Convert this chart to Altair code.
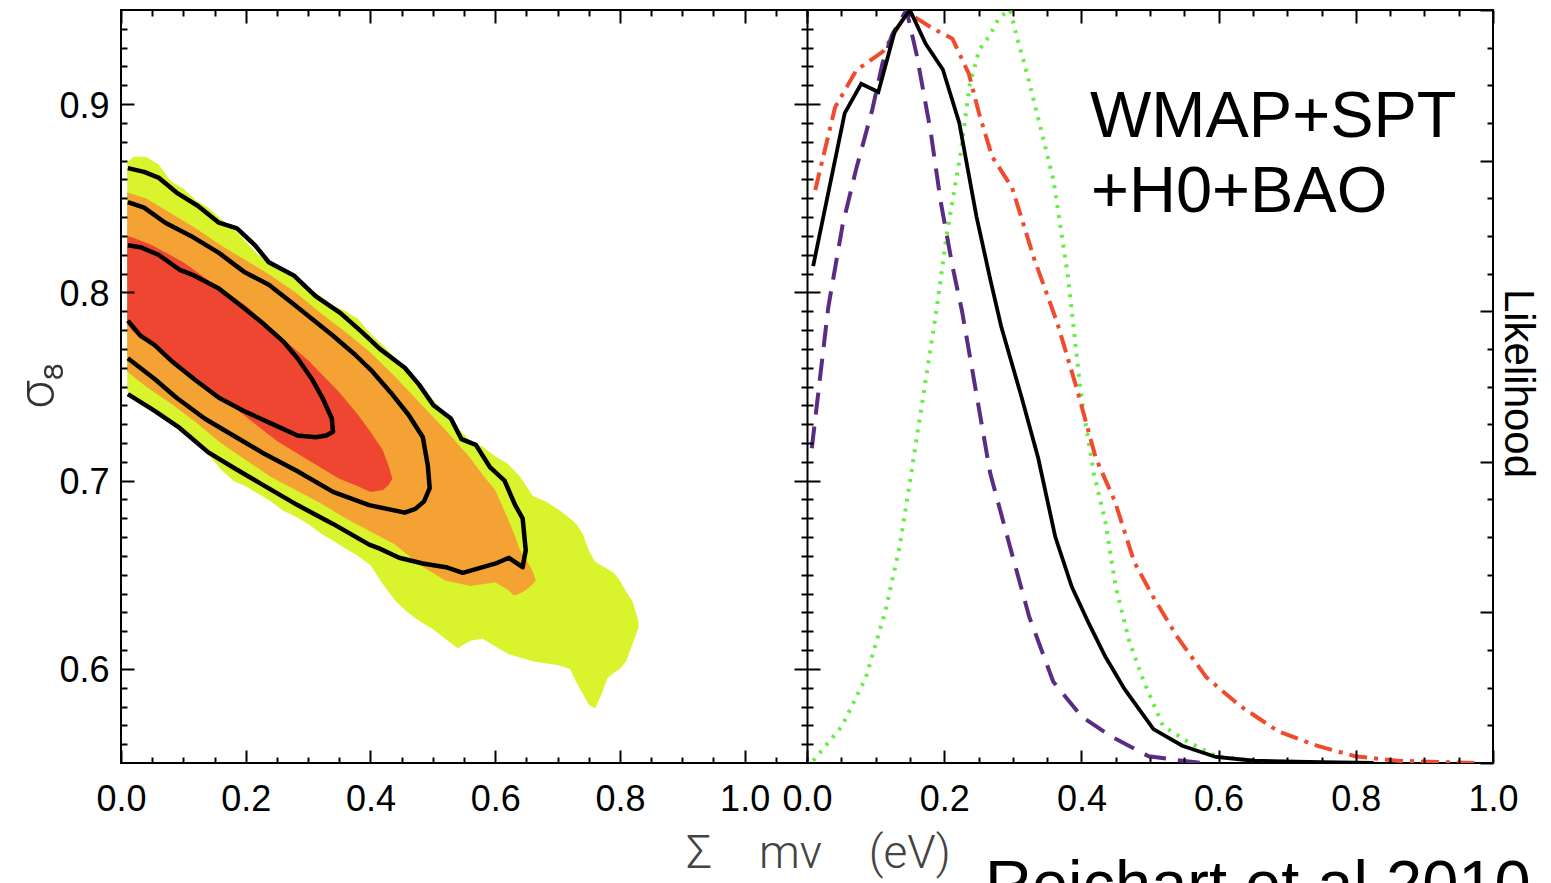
import altair as alt
import pandas as pd

# ---------------- Left panel: sum m_nu [eV] vs sigma_8 ----------------
# filled regions: x, lower sigma_8, upper sigma_8
yellow_x = [0.01, 0.02, 0.04, 0.06, 0.08, 0.10, 0.12, 0.14, 0.16, 0.18, 0.20, 0.22, 0.24, 0.26,
            0.28, 0.30, 0.32, 0.34, 0.36, 0.38, 0.40, 0.42, 0.44, 0.46, 0.48, 0.50, 0.52, 0.54,
            0.56, 0.58, 0.60, 0.62, 0.64, 0.66, 0.68, 0.70, 0.72, 0.73, 0.74, 0.75, 0.76, 0.77,
            0.78, 0.79, 0.80, 0.81, 0.82, 0.83]
yellow_hi = [0.869, 0.872, 0.872, 0.868, 0.859, 0.855, 0.849, 0.845, 0.839, 0.834, 0.827, 0.820,
             0.815, 0.811, 0.807, 0.803, 0.798, 0.793, 0.790, 0.786, 0.778, 0.772, 0.765, 0.758,
             0.752, 0.743, 0.736, 0.728, 0.721, 0.718, 0.713, 0.709, 0.702, 0.692, 0.689, 0.685,
             0.680, 0.677, 0.672, 0.663, 0.657, 0.655, 0.653, 0.651, 0.647, 0.641, 0.636, 0.625]
yellow_lo = [0.748, 0.745, 0.741, 0.737, 0.732, 0.727, 0.720, 0.714, 0.706, 0.700, 0.697, 0.693,
             0.689, 0.684, 0.681, 0.677, 0.672, 0.668, 0.664, 0.660, 0.655, 0.645, 0.636, 0.630,
             0.625, 0.621, 0.616, 0.611, 0.615, 0.616, 0.612, 0.608, 0.606, 0.604, 0.603, 0.602,
             0.600, 0.593, 0.587, 0.581, 0.579, 0.586, 0.595, 0.598, 0.600, 0.604, 0.613, 0.622]

orange_x = [0.01, 0.04, 0.08, 0.12, 0.16, 0.20, 0.24, 0.28, 0.32, 0.36, 0.40, 0.44, 0.48, 0.52,
            0.56, 0.58, 0.60, 0.62, 0.63, 0.64, 0.65, 0.66, 0.665]
orange_hi = [0.853, 0.850, 0.842, 0.834, 0.825, 0.817, 0.809, 0.800, 0.789, 0.779, 0.768, 0.755,
             0.741, 0.727, 0.712, 0.703, 0.695, 0.680, 0.672, 0.663, 0.658, 0.652, 0.647]
orange_lo = [0.758, 0.750, 0.741, 0.731, 0.720, 0.711, 0.702, 0.695, 0.688, 0.680, 0.673, 0.666,
             0.655, 0.647, 0.644, 0.645, 0.646, 0.642, 0.639, 0.640, 0.642, 0.645, 0.647]

red_x = [0.01, 0.02, 0.05, 0.10, 0.15, 0.20, 0.25, 0.30, 0.35, 0.38, 0.40, 0.42, 0.43, 0.435]
red_hi = [0.830, 0.829, 0.825, 0.816, 0.804, 0.793, 0.778, 0.764, 0.747, 0.735, 0.726, 0.716, 0.707, 0.701]
red_lo = [0.783, 0.779, 0.772, 0.759, 0.747, 0.734, 0.721, 0.711, 0.701, 0.697, 0.694, 0.695, 0.698, 0.701]

# contour lines (closed paths, open at the left edge)
c1_x = [0.011, 0.031, 0.060, 0.094, 0.117, 0.157, 0.192, 0.226, 0.260, 0.283, 0.306, 0.323, 0.338,
        0.340, 0.329, 0.312, 0.283, 0.243, 0.197, 0.157, 0.117, 0.083, 0.054, 0.031, 0.011]
c1_y = [0.825, 0.824, 0.820, 0.812, 0.809, 0.802, 0.793, 0.784, 0.774, 0.765, 0.754, 0.744, 0.733,
        0.726, 0.724, 0.723, 0.724, 0.730, 0.737, 0.744, 0.754, 0.763, 0.772, 0.777, 0.785]
c2_x = [0.011, 0.037, 0.071, 0.112, 0.157, 0.197, 0.237, 0.272, 0.306, 0.340, 0.375, 0.403, 0.432,
        0.461, 0.484, 0.492, 0.495, 0.486, 0.472, 0.455, 0.398, 0.340, 0.283, 0.226, 0.180, 0.134,
        0.089, 0.054, 0.011]
c2_y = [0.848, 0.845, 0.837, 0.830, 0.821, 0.811, 0.804, 0.795, 0.786, 0.777, 0.767, 0.758, 0.747,
        0.735, 0.723, 0.708, 0.696, 0.689, 0.685, 0.683, 0.687, 0.694, 0.705, 0.715, 0.724, 0.733,
        0.744, 0.754, 0.765]
c3_x = [0.011, 0.037, 0.060, 0.089, 0.123, 0.157, 0.186, 0.215, 0.237, 0.277, 0.312, 0.352, 0.386,
        0.415, 0.455, 0.478, 0.501, 0.529, 0.546, 0.569, 0.592, 0.615, 0.632, 0.644, 0.649, 0.644,
        0.622, 0.601, 0.548, 0.521, 0.484, 0.446, 0.414, 0.398, 0.340, 0.283, 0.226, 0.180, 0.140,
        0.094, 0.054, 0.011]
c3_y = [0.866, 0.864, 0.861, 0.853, 0.846, 0.837, 0.834, 0.825, 0.816, 0.809, 0.798, 0.789, 0.779,
        0.770, 0.760, 0.751, 0.740, 0.733, 0.722, 0.719, 0.707, 0.700, 0.687, 0.680, 0.663, 0.654,
        0.659, 0.656, 0.651, 0.654, 0.656, 0.659, 0.664, 0.666, 0.677, 0.687, 0.698, 0.707, 0.715,
        0.728, 0.737, 0.746]

# ---------------- Right panel: 1-D likelihoods ----------------
blk_x = [0.009, 0.055, 0.079, 0.104, 0.128, 0.150, 0.173, 0.198, 0.222, 0.247, 0.267, 0.283, 0.313,
         0.337, 0.362, 0.386, 0.411, 0.435, 0.463, 0.505, 0.547, 0.596, 0.652, 0.750, 0.826]
blk_L = [0.660, 0.863, 0.902, 0.891, 0.972, 1.000, 0.955, 0.921, 0.850, 0.726, 0.643, 0.580, 0.485,
         0.405, 0.300, 0.234, 0.185, 0.141, 0.098, 0.045, 0.023, 0.008, 0.003, 0.001, 0.000]
rdd_x = [0.012, 0.041, 0.072, 0.111, 0.146, 0.184, 0.212, 0.236, 0.251, 0.270, 0.299, 0.331, 0.365,
         0.393, 0.421, 0.449, 0.477, 0.505, 0.540, 0.582, 0.631, 0.687, 0.743, 0.799, 0.861, 0.973]
rdd_L = [0.761, 0.871, 0.920, 0.945, 0.997, 0.975, 0.962, 0.915, 0.862, 0.805, 0.764, 0.670, 0.584,
         0.498, 0.405, 0.347, 0.267, 0.220, 0.167, 0.114, 0.076, 0.042, 0.023, 0.009, 0.003, 0.000]
pur_x = [0.007, 0.031, 0.052, 0.072, 0.095, 0.110, 0.124, 0.145, 0.160, 0.180, 0.195, 0.212, 0.226,
         0.247, 0.267, 0.296, 0.324, 0.359, 0.400, 0.442, 0.498, 0.547, 0.575]
pur_L = [0.418, 0.605, 0.715, 0.790, 0.867, 0.929, 0.967, 1.000, 0.940, 0.840, 0.745, 0.660, 0.600,
         0.490, 0.385, 0.287, 0.194, 0.108, 0.062, 0.036, 0.009, 0.003, 0.000]
grn_x = [0.009, 0.051, 0.086, 0.114, 0.135, 0.152, 0.169, 0.187, 0.204, 0.224, 0.237, 0.251, 0.267,
         0.280, 0.296, 0.306, 0.318, 0.336, 0.359, 0.380, 0.400, 0.418, 0.435, 0.450, 0.470, 0.491,
         0.519, 0.554, 0.596, 0.652, 0.778]
grn_L = [0.003, 0.049, 0.114, 0.201, 0.287, 0.385, 0.485, 0.591, 0.703, 0.810, 0.900, 0.947, 0.967,
         0.990, 1.000, 0.964, 0.925, 0.860, 0.775, 0.649, 0.485, 0.385, 0.320, 0.234, 0.161, 0.108,
         0.049, 0.029, 0.009, 0.003, 0.000]

# tick labels / tick values
x_major = [0.0, 0.2, 0.4, 0.6, 0.8, 1.0]
x_minor_left = [i / 20 for i in range(1, 23) if i % 4]
x_minor_right = [i / 20 for i in range(1, 20) if i % 4]
s8_major = [0.6, 0.7, 0.8, 0.9]
s8_minor = [i / 100 for i in range(56, 95) if i % 10]
L_major = [0.0, 0.2, 0.4, 0.6, 0.8, 1.0]
L_minor = [i / 100 for i in range(5, 100, 5) if i % 20]

W, H = 1372, 753
PW = 686
XL = alt.Scale(domain=[0, 1.1], range=[0, PW], nice=False, zero=False)
XR = alt.Scale(domain=[0, 1.0], range=[PW, W], nice=False, zero=False)
YS = alt.Scale(domain=[0.55, 0.95], nice=False, zero=False)
YL = alt.Scale(domain=[0, 1], nice=False, zero=False)

MAJ, MIN = 13, 6


def band(xs, lo, hi, color):
    df = pd.DataFrame({"mnu": xs, "lo": lo, "hi": hi})
    return alt.Chart(df).mark_area(color=color, opacity=1).encode(
        x=alt.X("mnu:Q", scale=XL, axis=None),
        y=alt.Y("lo:Q", scale=YS, axis=None),
        y2="hi:Q",
    )


cont_df = pd.concat([
    pd.DataFrame({"mnu": c1_x, "s8": c1_y, "level": "1", "i": range(len(c1_x))}),
    pd.DataFrame({"mnu": c2_x, "s8": c2_y, "level": "2", "i": range(len(c2_x))}),
    pd.DataFrame({"mnu": c3_x, "s8": c3_y, "level": "3", "i": range(len(c3_x))}),
])
contours = alt.Chart(cont_df).mark_line(color="black", strokeWidth=4.5, strokeJoin="round").encode(
    x=alt.X("mnu:Q", scale=XL, axis=None),
    y=alt.Y("s8:Q", scale=YS, axis=None),
    detail="level:N",
    order="i:Q",
)


def curve(xs, ys, color, width, dash=None):
    df = pd.DataFrame({"mnu": xs, "L": ys})
    opts = dict(color=color, strokeWidth=width, clip=True)
    if dash:
        opts["strokeDash"] = dash
    return alt.Chart(df).mark_line(**opts).encode(
        x=alt.X("mnu:Q", scale=XR, axis=None),
        y=alt.Y("L:Q", scale=YL, axis=None),
    )


def tick_axis(orient, values, size, offset, **extra):
    opts = dict(orient=orient, values=values, tickSize=size, offset=offset, domain=False,
                grid=False, ticks=True, tickColor="black", tickWidth=2, labels=False, zindex=1,
                title=None)
    opts.update(extra)
    return alt.Axis(**opts)


def carrier(xscale, yscale, xaxis, yaxis, x0, y0):
    d = pd.DataFrame({"cx": [x0], "cy": [y0]})
    return alt.Chart(d).mark_point(opacity=0, size=1).encode(
        x=alt.X("cx:Q", scale=xscale, axis=xaxis),
        y=alt.Y("cy:Q", scale=yscale, axis=yaxis),
    )


lab = dict(labels=True, format=".1f", labelFont="Liberation Sans", labelFontSize=36,
           labelColor="black", labelFlush=False, labelOverlap=False)

axA = carrier(
    XL, YS,
    tick_axis("bottom", x_major, MAJ, -MAJ, labelPadding=19, **lab,
              title="Σ\u2003mν\u2003(eV)", titleFont="Roboto", titleFontWeight=300,
              titleFontSize=46, titleColor="#444444", titleX=697, titleY=117,
              titleAlign="center", titleBaseline="alphabetic"),
    tick_axis("left", s8_major, MAJ, -MAJ, labelPadding=12, labelOffset=2, **lab,
              title="σ₈", titleFont="Roboto", titleFontWeight=300, titleFontSize=50,
              titleColor="#333333", titleAngle=270, titleX=-96, titleY=375,
              titleAlign="center", titleBaseline="middle"),
    0.5, 0.7)
axB = carrier(XL, YS, tick_axis("bottom", x_minor_left, MIN, -MIN),
              tick_axis("left", s8_minor, MIN, -MIN), 0.5, 0.7)
axC = carrier(XL, YS, tick_axis("top", x_major, MAJ, -MAJ),
              tick_axis("right", s8_major, MAJ, -(W - PW + MAJ)), 0.5, 0.7)
axD = carrier(XL, YS, tick_axis("top", x_minor_left, MIN, -MIN),
              tick_axis("right", s8_minor, MIN, -(W - PW + MIN)), 0.5, 0.7)

axE = carrier(XR, YS, tick_axis("bottom", x_major, MAJ, -MAJ, labelPadding=19, **lab),
              tick_axis("left", s8_major, MAJ, -(PW + MAJ)), 0.5, 0.7)
axF = carrier(XR, YS, tick_axis("bottom", x_minor_right, MIN, -MIN),
              tick_axis("left", s8_minor, MIN, -(PW + MIN)), 0.5, 0.7)
axG = carrier(XR, YL, tick_axis("top", x_major, MAJ, -MAJ),
              tick_axis("right", L_major, MAJ, -MAJ,
                        title="Likelihood", titleFont="Liberation Sans", titleFontSize=42,
                        titleFontWeight="normal", titleColor="black", titleAngle=90,
                        titleX=37, titleY=373, titleAlign="center", titleBaseline="middle"),
              0.5, 0.5)
axH = carrier(XR, YL, tick_axis("top", x_minor_right, MIN, -MIN),
              tick_axis("right", L_minor, MIN, -MIN), 0.5, 0.5)
divider = carrier(XR, YS, None,
                  alt.Axis(orient="left", offset=-PW, domain=True, domainColor="black",
                           domainWidth=2, ticks=False, labels=False, grid=False, title=None,
                           zindex=1),
                  0.5, 0.7)


def label(txt, px, py, size):
    d = pd.DataFrame({"t": [txt]})
    return alt.Chart(d).mark_text(align="left", baseline="alphabetic", font="Liberation Sans",
                                  fontSize=size, color="black").encode(
        text="t:N", x=alt.value(px), y=alt.value(py))


layers = [
    band(yellow_x, yellow_lo, yellow_hi, "#D9F42C"),
    band(orange_x, orange_lo, orange_hi, "#F3A233"),
    band(red_x, red_lo, red_hi, "#EE4631"),
    contours,
    curve(grn_x, grn_L, "#66EE44", 4, [3, 7]),
    curve(rdd_x, rdd_L, "#F04B2D", 4, [18, 7, 4, 7]),
    curve(pur_x, pur_L, "#5A2D84", 4, [22, 12]),
    curve(blk_x, blk_L, "black", 3.8),
    label("WMAP+SPT", 969, 127, 65),
    label("+H0+BAO", 970, 202, 65),
    label("Reichart et al 2010 (", 864, 896, 65),
    axA, axB, axC, axD, axE, axF, axG, axH, divider,
]

chart = alt.layer(*layers).resolve_scale(x="independent", y="independent").resolve_axis(
    x="independent", y="independent"
).properties(
    width=W, height=H,
    autosize=alt.AutoSizeParams(type="none"),
    padding={"left": 113, "top": 2, "right": 50, "bottom": 120},
).configure_view(stroke="black", strokeWidth=2)

chart.save("out.html", embed_options={"renderer": "svg", "actions": False})
